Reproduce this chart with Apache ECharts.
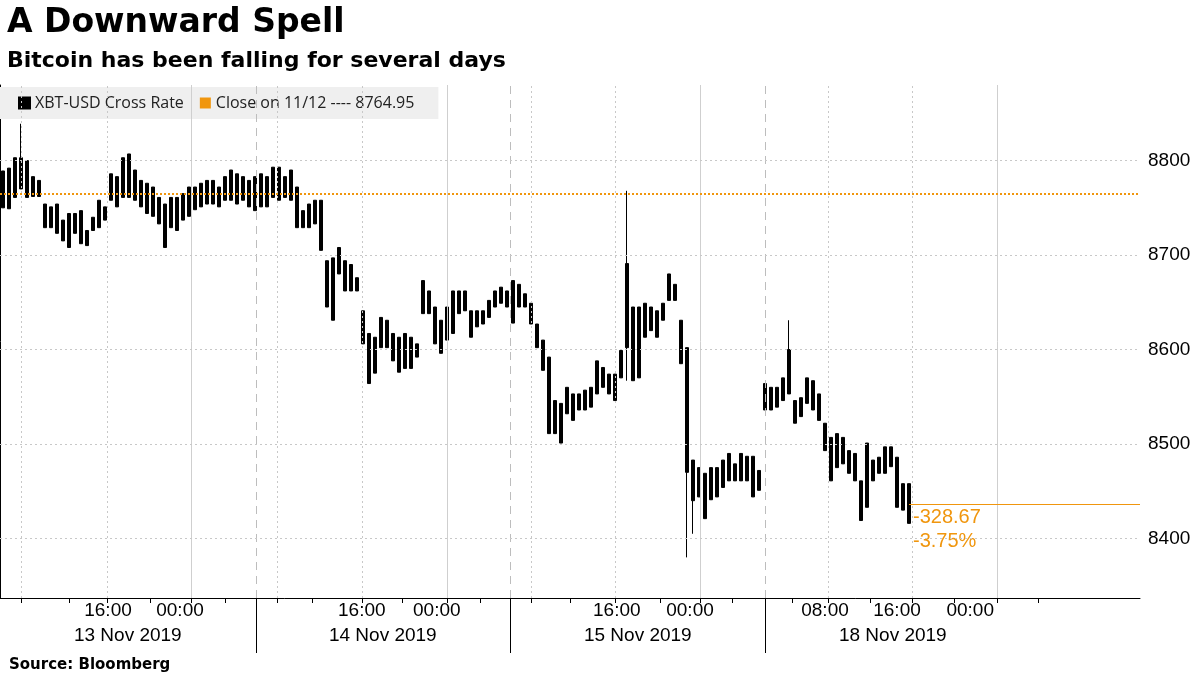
<!DOCTYPE html>
<html><head><meta charset="utf-8">
<script src="https://cdn.jsdelivr.net/npm/echarts@6/dist/echarts.min.js"></script>
<style>html,body{margin:0;padding:0;background:#fff}#c{width:1200px;height:675px}</style>
</head><body><div id="c"></div>
<script>
// Each column = [low, high] of XBT-USD over one slot
const bars = [
[8750,8789],[8749,8792],[8761,8803],[8770,8803],[8761,8800],[8762,8783],[8762,8779],[8729,8754],[8729,8751],[8723,8754],
[8715,8737],[8708,8744],[8723,8744],[8712,8747],[8710,8726],[8726,8740],[8729,8758],[8737,8751],[8758,8786],[8751,8783],
[8761,8803],[8761,8807],[8758,8790],[8751,8779],[8744,8776],[8741,8772],[8733,8761],[8708,8754],[8729,8761],[8726,8761],
[8737,8765],[8741,8772],[8748,8772],[8751,8776],[8754,8779],[8754,8779],[8751,8772],[8758,8783],[8758,8790],[8754,8786],
[8758,8783],[8751,8779],[8747,8783],[8751,8786],[8751,8783],[8761,8793],[8758,8793],[8761,8783],[8758,8790],[8729,8772],
[8729,8747],[8729,8754],[8733,8758],[8705,8758],[8645,8694],[8631,8697],[8680,8708],[8662,8694],[8662,8690],[8662,8676],
[8606,8641],[8564,8617],[8575,8613],[8602,8634],[8602,8631],[8588,8617],[8576,8613],[8580,8617],[8580,8613],[8592,8606],
[8638,8673],[8638,8662],[8606,8645],[8596,8631],[8610,8645],[8617,8662],[8638,8662],[8641,8662],[8613,8641],[8624,8641],
[8627,8641],[8634,8652],[8645,8662],[8649,8666],[8645,8662],[8628,8673],[8645,8669],[8645,8659],[8627,8649],[8602,8627],
[8578,8610],[8511,8592],[8511,8546],[8501,8543],[8532,8560],[8525,8553],[8536,8553],[8536,8557],[8539,8560],[8553,8588],
[8560,8581],[8553,8574],[8546,8574],[8570,8599],[8602,8691],[8567,8645],[8570,8645],[8613,8649],[8620,8645],[8613,8641],
[8631,8649],[8652,8680],[8652,8669],[8585,8631],[8470,8602],[8440,8483],[8444,8475],[8421,8469],[8441,8475],[8444,8475],
[8454,8483],[8461,8490],[8461,8479],[8461,8490],[8461,8487],[8444,8487],[8451,8472],[8536,8564],[8536,8560],[8539,8560],
[8546,8570],[8553,8600],[8522,8546],[8529,8549],[8543,8570],[8536,8567],[8525,8553],[8493,8522],[8461,8507],[8475,8511],
[8479,8507],[8469,8493],[8461,8490],[8419,8461],[8433,8501],[8461,8483],[8469,8486],[8469,8497],[8476,8497],[8433,8486],
[8430,8458],[8416,8458]
];
// spikes beyond the body: index -> [wickLow, wickHigh]
const wicks = {3:[8770,8839], 104:[8567,8768], 114:[8380,8602], 115:[8405,8483], 131:[8553,8631]};
const totalSlots = 190;
const closePrev = 8764.95;
const lastValue = 8436.28;
const changeAbs = "-328.67", changePct = "-3.75%";
const yTickLabels = [8400,8500,8600,8700,8800];
const yMinorTicks = [8350,8400,8450,8500,8550,8600,8650,8700,8750,8800,8850];
const timeLabelPos = [18,30,60.3,72.8,102.8,115,137.5,149.5,161.7];
const timeLabels = ["16:00","00:00","16:00","00:00","16:00","00:00","08:00","16:00","00:00"];
const dayLabelPos = [21.3,63.8,106.3,148.8];
const dayLabels = ["13 Nov 2019","14 Nov 2019","15 Nov 2019","18 Nov 2019"];
const dayBounds = [42.67,85,127.5];
const dotGrid = [3.5,17.8,46.2,60.3,88.5,102.5,138,152];
const solidGrid = [31.8,74.5,116.7,166.2];
const xMinorTicks = [3.5,11.5,17.8,25,31.8,37.5,46.2,52,60.3,67,74.5,80,88.5,95,102.5,110,116.7,122,132,138,145,152,159,166.2,173];

const cats = [], ohlc = [];
for (let i=0;i<totalSlots;i++){
  cats.push(String(i));
  if (i<bars.length){
    const [lo,hi]=bars[i]; const w=wicks[i]||[lo,hi];
    ohlc.push([lo,hi,w[0],w[1]]);
  } else ohlc.push('-');
}
const font = "'Liberation Sans Narrow','Liberation Sans',sans-serif";
const chart = echarts.init(document.getElementById('c'));
const vlines = [];
dotGrid.forEach(v=>vlines.push({xAxis:v,lineStyle:{color:'#c8c8c8',type:[2,3],width:1}}));
solidGrid.forEach(v=>vlines.push({xAxis:v,lineStyle:{color:'#cfcfcf',type:'solid',width:1}}));
dayBounds.forEach(v=>vlines.push({xAxis:v,lineStyle:{color:'#bdbdbd',type:[8,6],width:1}}));
const hlines = yTickLabels.map(v=>({yAxis:v,lineStyle:{color:'#c8c8c8',type:[2,3],width:1}}));
chart.setOption({
  animation:false,
  title:[
    {text:'A Downward Spell',left:2,top:2,textStyle:{fontFamily:'DejaVu Sans',fontWeight:'bold',fontSize:33,color:'#000'}},
    {text:'Bitcoin has been falling for several days',left:2,top:45,textStyle:{fontFamily:'DejaVu Sans',fontWeight:'bold',fontSize:22,color:'#000'}},
    {text:'Source: Bloomberg',left:4,top:653,textStyle:{fontFamily:'DejaVu Sans',fontWeight:'bold',fontSize:15,color:'#000'}}
  ],
  legend:{left:0,top:87,padding:[8,24,8,18],itemGap:16,itemWidth:11,itemHeight:11,backgroundColor:'#efefef',
    textStyle:{fontFamily:"'Open Sans',sans-serif",fontSize:16,color:'#222'},
    data:[{name:'XBT-USD Cross Rate',icon:'rect',itemStyle:{color:'#000'}},{name:'Close on 11/12 ---- 8764.95',icon:'rect',itemStyle:{color:'#f0960e'}}]},
  grid:{left:0,right:60,top:85,bottom:77},
  xAxis:[
    {type:'category',data:cats,boundaryGap:true,axisLine:{lineStyle:{color:'#000'}},axisTick:{show:false},axisLabel:{show:false},splitLine:{show:false}},
    {type:'value',min:0,max:totalSlots,position:'bottom',axisLine:{show:false},splitLine:{show:false},
      axisTick:{show:true,customValues:xMinorTicks,length:5,lineStyle:{color:'#000'}},
      axisLabel:{customValues:timeLabelPos,formatter:v=>{const k=timeLabelPos.indexOf(v);return k>=0?timeLabels[k]:'';},
        fontFamily:font,fontSize:19,color:'#000',margin:3}},
    {type:'value',min:0,max:totalSlots,position:'bottom',axisLine:{show:false},splitLine:{show:false},
      axisTick:{show:true,customValues:dayBounds,length:55,lineStyle:{color:'#000'}},
      axisLabel:{customValues:dayLabelPos,formatter:v=>{const k=dayLabelPos.indexOf(v);return k>=0?dayLabels[k]:'';},
        fontFamily:font,fontSize:19,color:'#000',margin:28}}
  ],
  yAxis:{type:'value',position:'right',min:8337,max:8880,scale:true,
    axisLine:{show:true,lineStyle:{color:'#000'}},splitLine:{show:false},
    axisTick:{show:true,inside:true,length:6,customValues:yMinorTicks,lineStyle:{color:'#000',width:2}},
    axisLabel:{customValues:yTickLabels,formatter:v=>String(v),fontFamily:font,fontSize:19,color:'#000',margin:8}},
  series:[
    {type:'line',name:'grid',xAxisIndex:1,data:[[0,8600]],symbol:'none',lineStyle:{opacity:0},silent:true,
      markLine:{silent:true,symbol:'none',label:{show:false},data:vlines.concat(hlines)}},
    {type:'candlestick',name:'XBT-USD Cross Rate',data:ohlc,barWidth:4,
      itemStyle:{color:'#000',color0:'#000',borderColor:'#000',borderColor0:'#000',borderWidth:1},
      markLine:{silent:true,symbol:'none',label:{show:false},
        data:[[{coord:['151',lastValue]},{coord:['189',lastValue],x:1140}]],
        lineStyle:{color:'#f0960e',type:'solid',width:1}}},
    {type:'line',name:'Close on 11/12 ---- 8764.95',data:[],itemStyle:{color:'#f0960e'},
      markLine:{silent:true,symbol:'none',label:{show:false},data:[{yAxis:closePrev}],
        lineStyle:{color:'#f0960e',type:[2,2],width:2}}}
  ]
});
const p = chart.convertToPixel({xAxisIndex:0,yAxisIndex:0},['151',lastValue]);
chart.setOption({graphic:[
  {type:'text',left:p[0]+4,top:p[1]+3,style:{text:changeAbs,fill:'#f0960e',font:"20px "+font}},
  {type:'text',left:p[0]+4,top:p[1]+27,style:{text:changePct,fill:'#f0960e',font:"20px "+font}}
]});
</script></body></html>
